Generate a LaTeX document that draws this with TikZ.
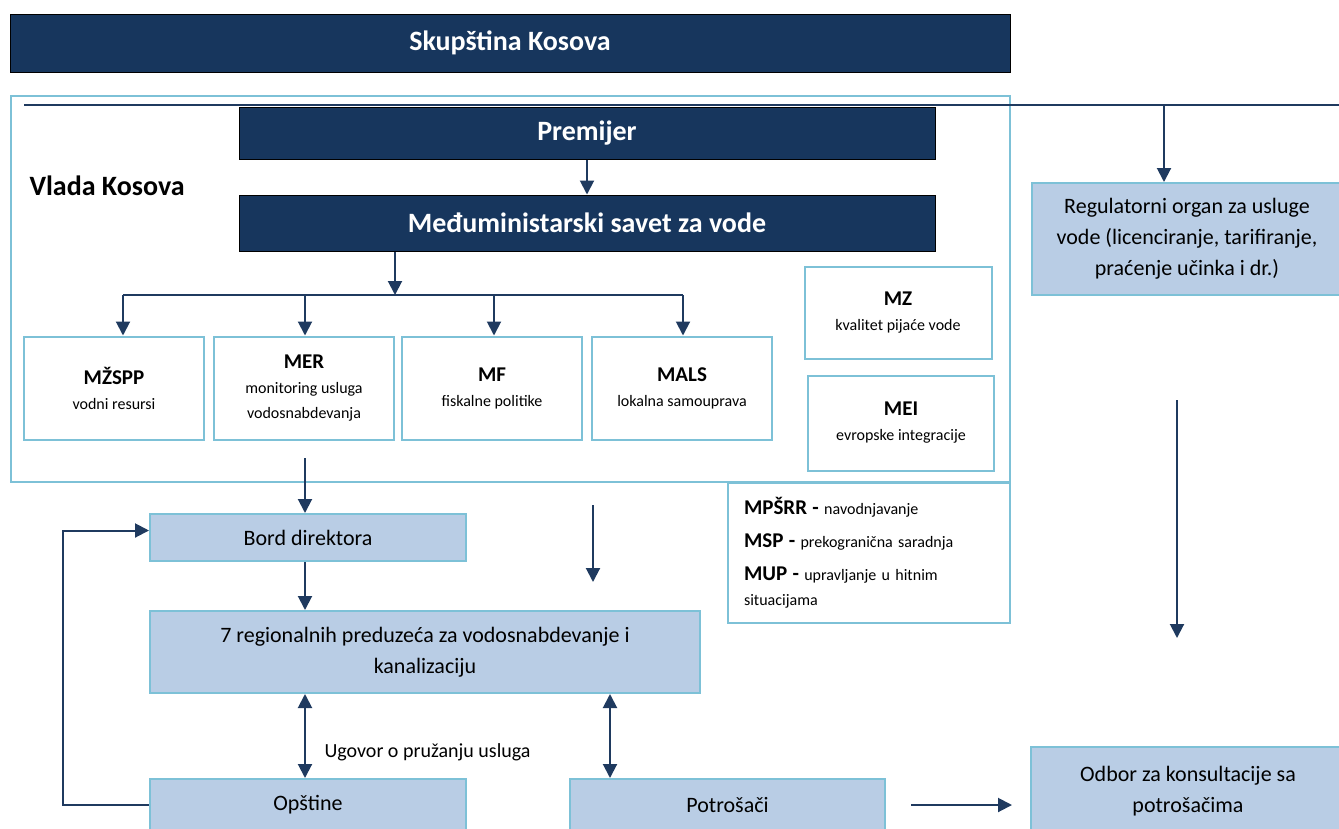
\documentclass[tikz,border=0pt]{standalone}
\usepackage{fontspec}
\setmainfont{Carlito}
\usetikzlibrary{arrows.meta}
\definecolor{navy}{HTML}{17365D}
\definecolor{paleblue}{HTML}{B9CDE5}
\definecolor{edgeblue}{HTML}{7DC1D7}
\definecolor{arrowblue}{HTML}{1F3A5F}
\newcommand\minname[1]{{\fontsize{21}{25}\selectfont\bfseries #1}}
\begin{document}
\begin{tikzpicture}[x=1pt,y=-1pt,
    darkbox/.style={draw=black,line width=1pt,fill=navy,text=white,
      font=\fontsize{28}{34}\selectfont\bfseries,inner sep=0pt},
    lightbox/.style={draw=edgeblue,line width=2pt,fill=paleblue,align=center,
      font=\fontsize{22}{31}\selectfont,inner sep=0pt},
    whitebox/.style={draw=edgeblue,line width=2pt,fill=white,align=center,
      font=\fontsize{16}{25}\selectfont,inner sep=0pt},
    arr/.style={draw=arrowblue,line width=2pt,-{Triangle[width=14pt,length=14pt]}},
    darr/.style={arr,{Triangle[width=14pt,length=14pt]}-{Triangle[width=14pt,length=14pt]}},
    plain/.style={draw=arrowblue,line width=2pt}]
  \useasboundingbox (0,0) rectangle (1339,828);
  % parliament and government
  \node[darkbox,minimum width=1000pt,minimum height=58pt] (skup) at (510,43) {Skupština Kosova};
  \draw[edgeblue,line width=2pt] (11,96) rectangle (1010,482);
  \coordinate (split) at (1164,105);
  \draw[plain] (24,105) -- (1339,105);
  \node[darkbox,minimum width=696pt,minimum height=52pt] (prem) at (587,133) {Premijer};
  \node[anchor=west,font=\fontsize{28}{34}\selectfont\bfseries] (vlada) at (26,186) {Vlada Kosova};
  \node[darkbox,minimum width=696pt,minimum height=56pt] (savet) at (587,223) {Međuministarski savet za vode};
  \draw[arr] (prem) -- (savet);
  % ministries
  \node[whitebox,minimum width=180pt,minimum height=103pt] (mzspp) at (114,388) {\minname{MŽSPP}\\vodni resursi};
  \node[whitebox,minimum width=180pt,minimum height=103pt] (mer) at (304,388) {\minname{MER}\\monitoring usluga\\vodosnabdevanja};
  \node[whitebox,minimum width=180pt,minimum height=103pt] (mf) at (492,388) {\minname{MF}\\fiskalne politike};
  \node[whitebox,minimum width=180pt,minimum height=103pt] (mals) at (682,388) {\minname{MALS}\\lokalna samouprava};
  \node[whitebox,minimum width=187pt,minimum height=92pt] (mz) at (898,313) {\minname{MZ}\\kvalitet pijaće vode};
  \node[whitebox,minimum width=186pt,minimum height=95pt] (mei) at (901,423) {\minname{MEI}\\evropske integracije};
  \node[whitebox,minimum width=282pt,minimum height=140pt,align=left,text width=250pt] (ostali) at (869,553)
    {\minname{MPŠRR -} navodnjavanje\\[8pt]\minname{MSP -} prekogranična saradnja\\[8pt]\minname{MUP -} upravljanje u hitnim\\situacijama};
  \coordinate (bar) at (395,295);
  \draw[arr] (savet.south -| bar) -- (bar);
  \draw[plain] ([xshift=9pt]mzspp.north |- bar) -- ([xshift=1pt]mals.north |- bar);
  \foreach \m/\s in {mzspp/9,mer/1,mf/2,mals/1}
    \draw[arr] ([xshift=\s pt]\m.north |- bar) -- ([xshift=\s pt]\m.north);
  % regulator
  \node[lightbox,minimum width=310pt,minimum height=112pt] (reg) at (1187,239)
    {Regulatorni organ za usluge\\vode (licenciranje, tarifiranje,\\praćenje učinka i dr.)};
  \draw[arr] (split) -- (split |- reg.north);
  % companies and users
  \node[lightbox,minimum width=316pt,minimum height=47pt] (bord) at (308,537.5) {Bord direktora};
  \node[lightbox,minimum width=550pt,minimum height=82pt] (firms) at (425,652)
    {7 regionalnih preduzeća za vodosnabdevanje i\\kanalizaciju};
  \node[lightbox,minimum width=316pt,minimum height=52pt] (opst) at (308,805) {Opštine};
  \node[lightbox,minimum width=315pt,minimum height=52pt] (potr) at (727.5,805) {Potrošači};
  \node[lightbox,minimum width=314pt,minimum height=88pt] (odbor) at (1188,791) {Odbor za konsultacije sa\\potrošačima};
  \node[anchor=west,font=\fontsize{20}{28}\selectfont] (ugovor) at (321,752) {Ugovor o pružanju usluga};
  \coordinate (gov) at (305,458);
  \coordinate (cons) at (610,0);
  \draw[arr] (gov) -- (gov |- bord.north);
  \draw[arr] (bord.south -| gov) -- (firms.north -| gov);
  \draw[darr] (firms.south -| gov) -- (opst.north -| gov);
  \draw[darr] (firms.south -| cons) -- (potr.north -| cons);
  \draw[arr] (opst.west) -- ++(-86,0) |- ([yshift=7pt]bord.west);
  \draw[arr] ([xshift=25pt]potr.east) -- ([xshift=-18pt]odbor.west |- potr.east);
  % loose arrows
  \coordinate (f1) at (593,505);
  \coordinate (f2) at (593,582);
  \draw[arr] (f1) -- (f2);
  \coordinate (r1) at (1177,400);
  \coordinate (r2) at (1177,638);
  \draw[arr] (r1) -- (r2);
\end{tikzpicture}
\end{document}
